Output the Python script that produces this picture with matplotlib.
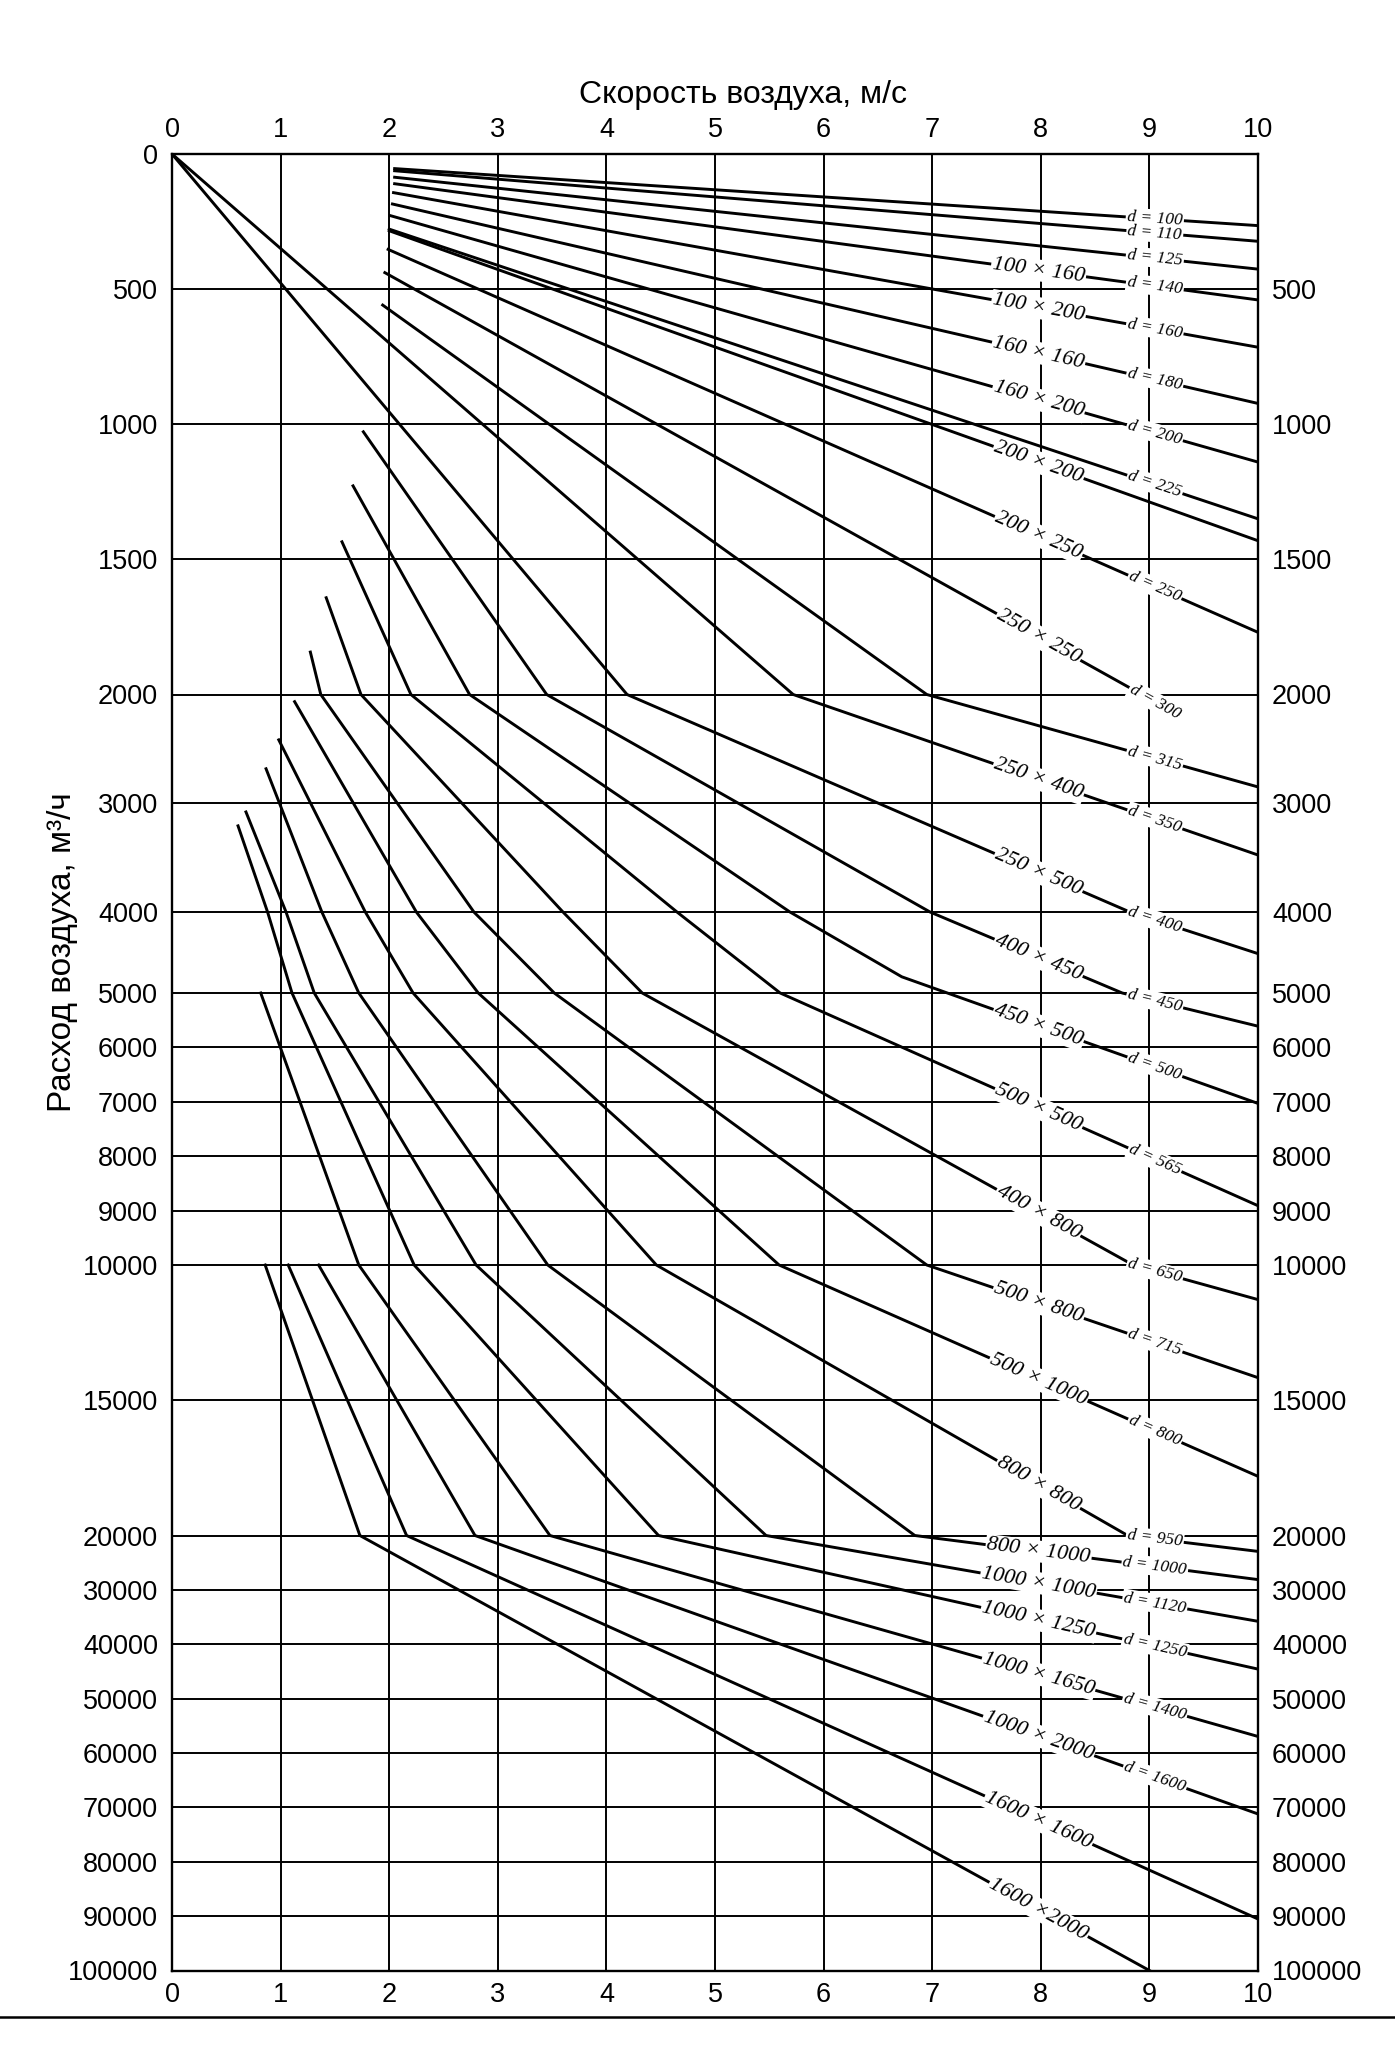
import numpy as np
import matplotlib
matplotlib.use("Agg")
import matplotlib.pyplot as plt
from matplotlib.lines import Line2D

# ---------------- axis data ----------------
x_ticks = [0, 1, 2, 3, 4, 5, 6, 7, 8, 9, 10]
y_ticks = [0, 500, 1000, 1500, 2000, 3000, 4000, 5000, 6000, 7000, 8000, 9000,
           10000, 15000, 20000, 30000, 40000, 50000, 60000, 70000, 80000, 90000, 100000]

# piecewise vertical scale of the nomogram (flow -> drawing position, px)
scale_q = [-100000, 0, 2000, 4000, 5000, 10000, 20000, 100000, 1000000]
scale_pos = [-26871, 154, 694.5, 912, 993, 1265, 1535.5, 1970.5, 6864]

# ---------------- duct lines (velocity m/s, flow m3/h) ----------------
v_d100 = [2.05, 10];  q_d100 = [54, 265]
v_d110 = [2.05, 10];  q_d110 = [62, 323]
v_d125 = [2.05, 10];  q_d125 = [86, 426]
v_d140 = [2.05, 10];  q_d140 = [110, 540]
v_d160 = [2.04, 10];  q_d160 = [143, 715]
v_d180 = [2.03, 10];  q_d180 = [185, 923]
v_d200 = [2.01, 10];  q_d200 = [228, 1140]
v_d225 = [2.0, 10];   q_d225 = [278, 1350]
v_r200x200 = [2.0, 10]; q_r200x200 = [284, 1431]
v_d250 = [1.99, 10];  q_d250 = [353, 1770]
v_d300 = [1.96, 8.93]; q_d300 = [439, 2000]
v_d315 = [1.94, 6.95, 10]; q_d315 = [559, 2000, 2850]
v_d350 = [0, 5.72, 10]; q_d350 = [0, 2000, 3476]
v_d400 = [0, 4.19, 8.82, 10]; q_d400 = [0, 2000, 4000, 4514]
v_d450 = [1.762, 3.45, 6.98, 8.75, 10]; q_d450 = [1028, 2000, 4000, 5000, 5610]
v_d500 = [1.667, 2.74, 5.69, 6.72, 10]; q_d500 = [1228, 2000, 4000, 4800, 7030]
v_d565 = [1.565, 2.2, 4.65, 5.6, 10]; q_d565 = [1435, 2000, 4000, 5000, 8910]
v_d650 = [1.42, 1.74, 3.6, 4.33, 8.85, 10]; q_d650 = [1642, 2000, 4000, 5000, 10000, 11279]
v_d715 = [1.274, 1.37, 2.78, 3.52, 6.95, 10]; q_d715 = [1843, 2000, 4000, 5000, 10000, 14165]
v_d800 = [1.129, 2.25, 2.82, 5.59, 10]; q_d800 = [2066, 4000, 5000, 10000, 17813]
v_d950 = [0.983, 1.78, 2.22, 4.46, 8.8, 10]; q_d950 = [2417, 4000, 5000, 10000, 20000, 22923]
v_d1000 = [0.866, 1.38, 1.72, 3.46, 6.84, 10]; q_d1000 = [2683, 4000, 5000, 10000, 20000, 28110]
v_d1120 = [0.681, 1.05, 1.31, 2.8, 5.47, 10]; q_d1120 = [3080, 4000, 5000, 10000, 20000, 35780]
v_d1250 = [0.608, 0.88, 1.105, 2.23, 4.48, 10]; q_d1250 = [3208, 4000, 5000, 10000, 20000, 44570]
v_d1400 = [0.817, 1.72, 3.48, 10]; q_d1400 = [5000, 10000, 20000, 56960]
v_d1600 = [1.35, 2.79, 10]; q_d1600 = [10000, 20000, 71210]
v_r1600x1600 = [1.07, 2.16, 10]; q_r1600x1600 = [10000, 20000, 90530]
v_r1600x2000 = [0.858, 1.73, 9.0]; q_r1600x2000 = [10000, 20000, 100000]

# labels carried by each line: (rectangular duct, round duct)
rect_labels = ["", "", "", "100 × 160", "100 × 200", "160 × 160", "160 × 200", "", "200 × 200",
               "200 × 250", "250 × 250", "", "250 × 400", "250 × 500", "400 × 450", "450 × 500",
               "500 × 500", "400 × 800", "500 × 800", "500 × 1000", "800 × 800", "800 × 1000",
               "1000 × 1000", "1000 × 1250", "1000 × 1650", "1000 × 2000", "1600 × 1600", "1600 ×2000"]
round_labels = ["d = 100", "d = 110", "d = 125", "d = 140", "d = 160", "d = 180", "d = 200", "d = 225", "",
                "d = 250", "d = 300", "d = 315", "d = 350", "d = 400", "d = 450", "d = 500",
                "d = 565", "d = 650", "d = 715", "d = 800", "d = 950", "d = 1000",
                "d = 1120", "d = 1250", "d = 1400", "d = 1600", "", ""]

line_v = [v_d100, v_d110, v_d125, v_d140, v_d160, v_d180, v_d200, v_d225, v_r200x200,
          v_d250, v_d300, v_d315, v_d350, v_d400, v_d450, v_d500, v_d565, v_d650, v_d715,
          v_d800, v_d950, v_d1000, v_d1120, v_d1250, v_d1400, v_d1600, v_r1600x1600, v_r1600x2000]
line_q = [q_d100, q_d110, q_d125, q_d140, q_d160, q_d180, q_d200, q_d225, q_r200x200,
          q_d250, q_d300, q_d315, q_d350, q_d400, q_d450, q_d500, q_d565, q_d650, q_d715,
          q_d800, q_d950, q_d1000, q_d1120, q_d1250, q_d1400, q_d1600, q_r1600x1600, q_r1600x2000]

# ---------------- fonts ----------------
SANS = "Liberation Sans"
SERIF = "Liberation Serif"
TICK_FS = 19.5

# ---------------- figure ----------------
W, H, DPI = 1395, 2048, 100
fig = plt.figure(figsize=(W / DPI, H / DPI), dpi=DPI)
fig.patch.set_facecolor("white")

x0, x1 = 172, 1258
ytop, ybot = 154, 1970.5
ax = fig.add_axes([x0 / W, 1 - ybot / H, (x1 - x0) / W, (ybot - ytop) / H])

fwd = lambda q: np.interp(q, scale_q, scale_pos)
inv = lambda p: np.interp(p, scale_pos, scale_q)
ax.set_yscale("function", functions=(fwd, inv))
ax.set_xlim(0, 10)
ax.set_ylim(100000, 0)

GRID_LW = 1.4
for q in y_ticks[1:-1]:
    ax.axhline(q, color="black", lw=GRID_LW, zorder=1)
for v in x_ticks[1:-1]:
    ax.axvline(v, color="black", lw=GRID_LW, zorder=1)

for vs, qs in zip(line_v, line_q):
    ax.plot(vs, qs, color="black", lw=2.1, solid_joinstyle="miter", zorder=3)

for s in ax.spines.values():
    s.set_linewidth(1.7)
    s.set_zorder(4)

ax.set_xticks(x_ticks)
ax.set_xticklabels([str(t) for t in x_ticks])
ax.set_yticks(y_ticks)
ax.set_yticklabels([str(t) for t in y_ticks])
ax.minorticks_off()
ax.tick_params(axis="x", which="both", length=0, top=True, labeltop=True,
               bottom=True, labelbottom=True, pad=8, labelsize=TICK_FS)
ax.tick_params(axis="y", which="both", length=0, left=True, labelleft=True,
               right=True, labelright=True, pad=10, labelsize=TICK_FS)
for t in ax.yaxis.get_major_ticks() + ax.xaxis.get_major_ticks():
    t.label1.set_fontfamily(SANS)
    t.label2.set_fontfamily(SANS)
ax.yaxis.get_major_ticks()[0].label2.set_visible(False)


def place_label(vs, qs, vpos, text, size):
    pts = ax.transData.transform(np.column_stack([vs, qs]).astype(float))
    xt = ax.transData.transform((vpos, 1000.0))[0]
    xs = pts[:, 0]
    i = int(np.searchsorted(xs, xt)) - 1
    i = min(max(i, 0), len(xs) - 2)
    (xa, ya), (xb, yb) = pts[i], pts[i + 1]
    t = (xt - xa) / (xb - xa)
    yd = ya + t * (yb - ya)
    ang = np.degrees(np.arctan2(yb - ya, xb - xa))
    dv, dq = ax.transData.inverted().transform((xt, yd))
    ax.text(dv, dq, text, rotation=ang, rotation_mode="anchor", ha="center", va="center",
            fontsize=size, family=SERIF, style="italic", zorder=5,
            bbox=dict(facecolor="white", edgecolor="none", pad=1.0))


for vs, qs, rl, dl in zip(line_v, line_q, rect_labels, round_labels):
    if rl:
        place_label(vs, qs, 7.98, rl, 16)
    if dl:
        place_label(vs, qs, 9.05, dl, 12.5)

fig.text(743 / W, 1 - 95 / H, "Скорость воздуха, м/с", ha="center", va="center",
         fontsize=23, family=SANS)
fig.text(63 / W, 1 - 952 / H, "Расход воздуха, м³/ч", ha="center", va="center",
         rotation=90, fontsize=24, family=SANS)

fig.add_artist(Line2D([0, 1], [1 - 2017 / H, 1 - 2017 / H], color="black", lw=1.8,
                      transform=fig.transFigure))

fig.savefig("out.png", dpi=DPI, facecolor="white")
